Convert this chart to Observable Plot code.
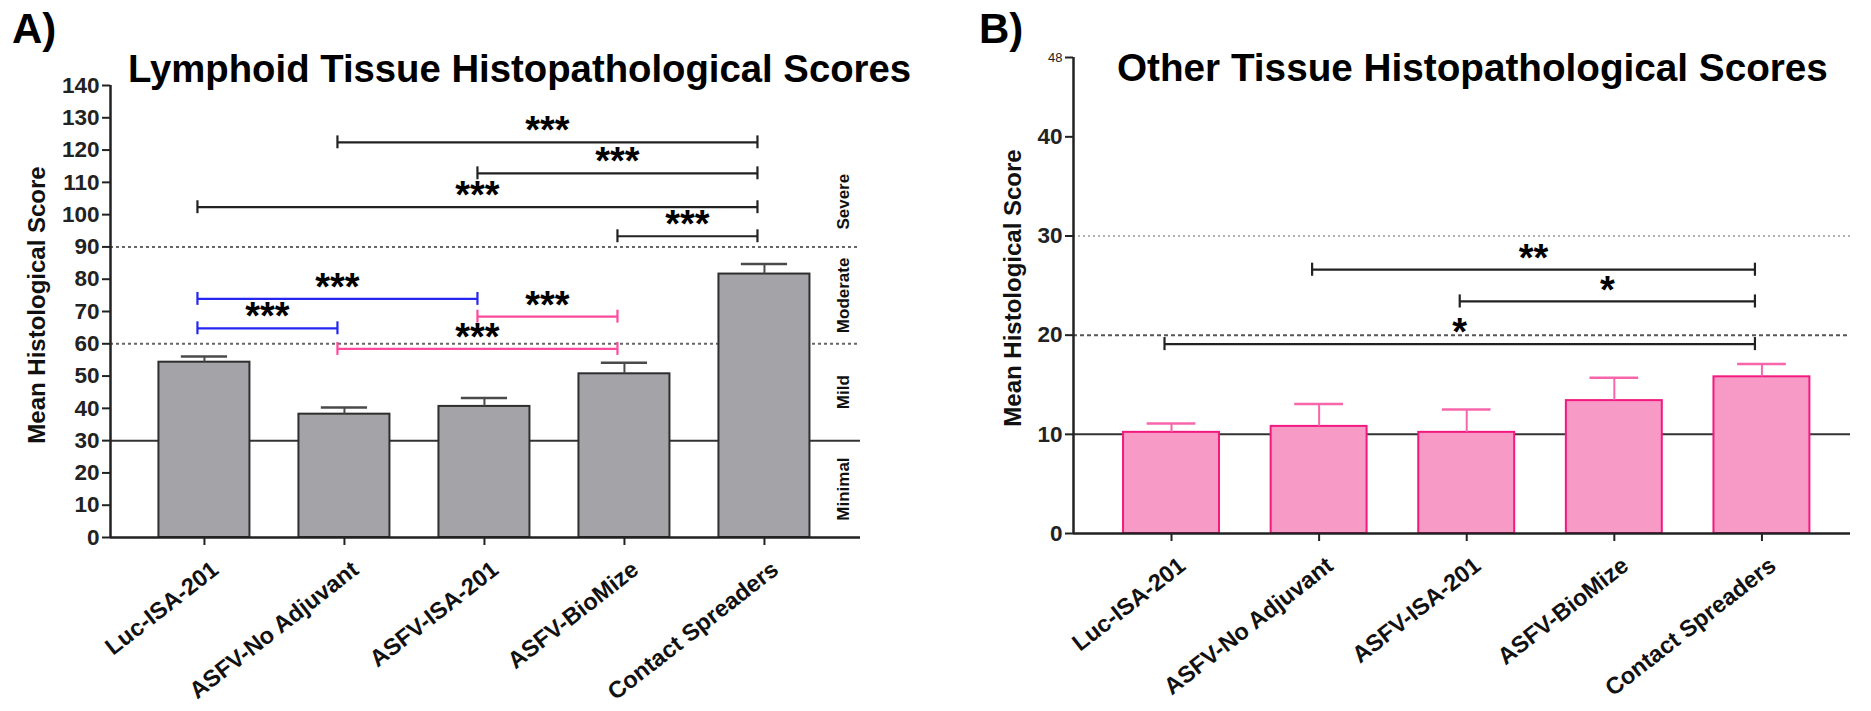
<!DOCTYPE html>
<html><head><meta charset="utf-8">
<script src="https://cdn.jsdelivr.net/npm/d3@7"></script>
<script src="https://cdn.jsdelivr.net/npm/@observablehq/plot@0.6"></script>
<style>
body{margin:0;background:#fff;font-family:"Liberation Sans",Arial,sans-serif;}
#wrap{position:relative;width:1871px;height:711px;overflow:hidden;background:#fff;}
.panel{position:absolute;top:0;}
.t{position:absolute;font-weight:bold;color:#000;white-space:nowrap;line-height:1;}
.ylab{position:absolute;transform:translate(-50%,-50%) rotate(-90deg);font-size:24px;font-weight:bold;white-space:nowrap;line-height:1;color:#111;}
</style></head><body>
<div id="wrap">
  <div class="t" style="left:12px;top:8px;font-size:42px">A)</div>
  <div class="t" style="left:128px;top:50px;font-size:38.3px">Lymphoid Tissue Histopathological Scores</div>
  <div class="ylab" style="left:37px;top:305px">Mean Histological Score</div>
  <div class="t" style="left:979px;top:8px;font-size:42px">B)</div>
  <div class="t" style="left:1117px;top:49px;font-size:38.7px">Other Tissue Histopathological Scores</div>
  <div class="ylab" style="left:1013px;top:288px">Mean Histological Score</div>
  <div id="pA" class="panel" style="left:0px"></div>
  <div id="pB" class="panel" style="left:935px"></div>
</div>
<script>
// ---------- data ----------
const groups = ["Luc-ISA-201", "ASFV-No Adjuvant", "ASFV-ISA-201", "ASFV-BioMize", "Contact Spreaders"];
const lymphoidMean = [54.3, 38.2, 40.6, 50.7, 81.6];
const lymphoidSEM  = [1.8, 2.1, 2.6, 3.4, 3.1];
const otherMean = [10.2, 10.8, 10.2, 13.4, 15.8];
const otherSEM  = [0.9, 2.25, 2.3, 2.3, 1.3];

const lymphoidTicks = [0, 10, 20, 30, 40, 50, 60, 70, 80, 90, 100, 110, 120, 130, 140];
const otherTicks = [0, 10, 20, 30, 40];
const otherTopTick = [48];

const lymphoidSolid = [30];
const lymphoidDotted = [60, 90];
const otherSolid = [10];
const otherDashed = [20];
const otherDotted = [30];

const severityLabels = ["Minimal", "Mild", "Moderate", "Severe"];
const severityAt = [15, 45, 75, 104];

const lymphoidBrackets = [
  {from: "ASFV-No Adjuvant", to: "Contact Spreaders", y: 122.4, label: "***", color: "black"},
  {from: "ASFV-ISA-201", to: "Contact Spreaders", y: 112.8, label: "***", color: "black"},
  {from: "Luc-ISA-201", to: "Contact Spreaders", y: 102.3, label: "***", color: "black"},
  {from: "ASFV-BioMize", to: "Contact Spreaders", y: 93.3, label: "***", color: "black"},
  {from: "Luc-ISA-201", to: "ASFV-ISA-201", y: 73.9, label: "***", color: "blue"},
  {from: "Luc-ISA-201", to: "ASFV-No Adjuvant", y: 64.8, label: "***", color: "blue"},
  {from: "ASFV-ISA-201", to: "ASFV-BioMize", y: 68.4, label: "***", color: "pink"},
  {from: "ASFV-No Adjuvant", to: "ASFV-BioMize", y: 58.4, label: "***", color: "pink"}
];
const otherBrackets = [
  {from: "ASFV-No Adjuvant", to: "Contact Spreaders", y: 26.6, label: "**", color: "black"},
  {from: "ASFV-ISA-201", to: "Contact Spreaders", y: 23.4, label: "*", color: "black"},
  {from: "Luc-ISA-201", to: "Contact Spreaders", y: 19.1, label: "*", color: "black"}
];

// ---------- styles ----------
const colorMap = {black: "#222222", blue: "#2626f2", pink: "#ff4b9d"};
const FONT = "'Liberation Sans', Arial, sans-serif";

function panel({mean, sem, ticks, topTick, yMax, xDomain, width, margins, barFill, barStroke, errStroke,
                solid, dashed, dotted, brackets, tickHalf, severity}) {
  const rows = groups.map((g, i) => ({i, group: g, mean: mean[i], sem: sem[i]}));
  const br = brackets.map(b => ({...b, i1: groups.indexOf(b.from), i2: groups.indexOf(b.to)}));
  const ends = br.flatMap(b => [{i: b.i1, y: b.y, color: b.color}, {i: b.i2, y: b.y, color: b.color}]);
  const halfBar = 0.325, halfCap = 0.165;
  const marks = [
    Plot.ruleY(solid, {stroke: "#333", strokeWidth: 2}),
    Plot.ruleY(dashed, {stroke: "#555", strokeWidth: 2, strokeDasharray: "4,3"}),
    Plot.ruleY(dotted, {stroke: dashed.length ? "#9a9a9a" : "#666", strokeWidth: dashed.length ? 1.5 : 2, strokeDasharray: dashed.length ? "2,3" : "3,3"}),
    Plot.rectY(rows, {x1: d => d.i - halfBar, x2: d => d.i + halfBar, y1: 0, y2: "mean", fill: barFill, stroke: barStroke, strokeWidth: 2}),
    Plot.ruleX(rows, {x: "i", y1: "mean", y2: d => d.mean + d.sem, stroke: errStroke, strokeWidth: 2}),
    Plot.ruleY(rows, {y: d => d.mean + d.sem, x1: d => d.i - halfCap, x2: d => d.i + halfCap, stroke: errStroke, strokeWidth: 2.5}),
    Plot.ruleY(br, {y: "y", x1: "i1", x2: "i2", dx: -7, stroke: d => colorMap[d.color], strokeWidth: 2.2}),
    Plot.ruleX(ends, {x: "i", y1: d => d.y - tickHalf, y2: d => d.y + tickHalf, dx: -7, stroke: d => colorMap[d.color], strokeWidth: 2.2}),
    Plot.text(br, {x: d => (d.i1 + d.i2) / 2, y: "y", text: "label", dx: -7, dy: -11, fontSize: 38, lineAnchor: "middle", fill: "#000", fontFamily: FONT}),
    Plot.axisY(ticks, {tickSize: 8, tickPadding: 3, fontSize: 22.5, strokeWidth: 2, stroke: "#222", fill: "#222"}),
    Plot.axisX(rows.map(d => d.i), {tickFormat: () => "", tickSize: 8, strokeWidth: 2, stroke: "#222"}),
    Plot.text(rows, {x: "i", text: "group", frameAnchor: "bottom", rotate: -38, textAnchor: "end", lineAnchor: "middle",
                     dx: 11, dy: 29, fontSize: 23.5, fill: "#111", fontFamily: FONT}),
    Plot.ruleY([0], {stroke: "#222", strokeWidth: 2.5}),
    Plot.ruleX([xDomain[0]], {y1: 0, y2: yMax, stroke: "#222", strokeWidth: 2.5})
  ];
  if (topTick) marks.push(Plot.axisY(topTick, {tickSize: 8, tickPadding: 3, fontSize: 13, fontWeight: "normal", strokeWidth: 2, stroke: "#222", fill: "#222"}));
  if (severity) marks.push(Plot.text(severityLabels.map((s, k) => ({s, y: severityAt[k]})), {
    y: "y", text: "s", frameAnchor: "right", dx: -17, rotate: -90, fontSize: 17, fontFamily: FONT, fill: "#111", textAnchor: "middle", lineAnchor: "middle"}));
  return Plot.plot({
    width, height: 711,
    marginLeft: margins[0], marginRight: margins[1], marginTop: margins[2], marginBottom: margins[3],
    x: {domain: xDomain, axis: null},
    y: {domain: [0, yMax], axis: null},
    style: {fontFamily: FONT, fontWeight: "bold", background: "transparent", overflow: "visible"},
    marks
  });
}

document.getElementById("pA").append(panel({
  mean: lymphoidMean, sem: lymphoidSEM, ticks: lymphoidTicks, topTick: null, yMax: 140,
  xDomain: [-0.671, 4.686], width: 935, margins: [110, 75, 85, 174],
  barFill: "#a4a3a8", barStroke: "#2e2e2e", errStroke: "#4a4a4a",
  solid: lymphoidSolid, dashed: [], dotted: lymphoidDotted, brackets: lymphoidBrackets, tickHalf: 2.0, severity: true
}));
document.getElementById("pB").append(panel({
  mean: otherMean, sem: otherSEM, ticks: otherTicks, topTick: otherTopTick, yMax: 48,
  xDomain: [-0.664, 4.60], width: 936, margins: [138, 21, 57, 178],
  barFill: "#f89ac6", barStroke: "#f2197f", errStroke: "#f766ab",
  solid: otherSolid, dashed: otherDashed, dotted: otherDotted, brackets: otherBrackets, tickHalf: 0.66, severity: false
}));
</script>
</body></html>
